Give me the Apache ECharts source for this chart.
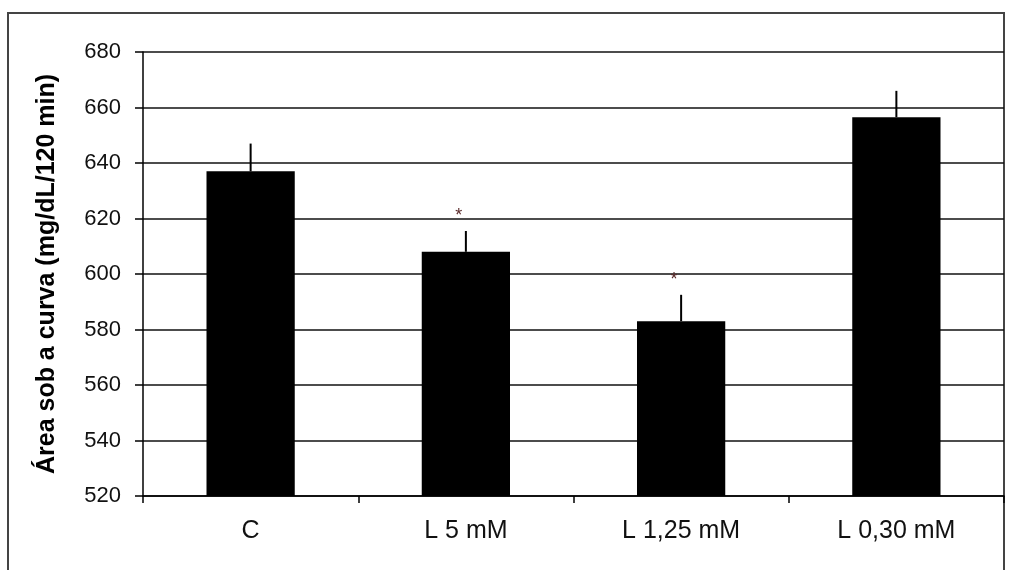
<!DOCTYPE html>
<html>
<head>
<meta charset="utf-8">
<script src="https://cdn.jsdelivr.net/npm/echarts@6/dist/echarts.min.js"></script>
<style>
html,body{margin:0;padding:0;background:#fff;}
#chart{width:1009px;height:570px;}
</style>
</head>
<body>
<div id="chart"></div>
<script>
var categories = ['C', 'L 5 mM', 'L 1,25 mM', 'L 0,30 mM'];
var means = [637, 608, 583, 656.5];
var errors = [10, 7.5, 9.5, 9.5];
var marks = ['', '*', '*', ''];
var yTicks = [520, 540, 560, 580, 600, 620, 640, 660, 680];
var yTitle = 'Área sob a curva (mg/dL/120 min)';

var chart = echarts.init(document.getElementById('chart'));
var errData = categories.map(function (c, i) { return [i, means[i], errors[i], marks[i]]; });

chart.setOption({
  animation: false,
  backgroundColor: '#fff',
  graphic: [{
    type: 'rect',
    shape: { x: 8, y: 13, width: 996, height: 600 },
    style: { fill: 'none', stroke: '#444', lineWidth: 2 },
    z: 0
  }],
  grid: { left: 143, right: 5, top: 52, bottom: 74 },
  xAxis: {
    type: 'category',
    data: categories,
    axisLine: { lineStyle: { color: '#000', width: 1.5 } },
    axisTick: { show: true, length: 7, lineStyle: { color: '#000', width: 1.5 } },
    axisLabel: { fontFamily: 'Liberation Sans', fontSize: 25, color: '#111', margin: 23 }
  },
  yAxis: {
    type: 'value',
    min: yTicks[0],
    max: yTicks[yTicks.length - 1],
    interval: 20,
    name: yTitle,
    nameLocation: 'middle',
    nameGap: 83,
    nameRotate: 90,
    nameTextStyle: { fontFamily: 'Liberation Sans', fontWeight: 'bold', fontSize: 25, color: '#000' },
    axisLine: { show: true, lineStyle: { color: '#000', width: 1.5 } },
    axisTick: { show: true, length: 8, lineStyle: { color: '#000', width: 1.5 } },
    axisLabel: { fontFamily: 'Liberation Sans', fontSize: 22, color: '#111', margin: 22 },
    splitLine: { show: true, lineStyle: { color: '#111', width: 1.5 } }
  },
  series: [{
    type: 'bar',
    data: means,
    barWidth: '41%',
    itemStyle: { color: '#000' },
    z: 2
  }, {
    type: 'custom',
    data: errData,
    clip: false,
    z: 3,
    renderItem: function (params, api) {
      var i = api.value(0), m = api.value(1), e = api.value(2);
      var base = api.coord([i, m]);
      var top = api.coord([i, m + e]);
      var children = [{
        type: 'line',
        shape: { x1: base[0], y1: base[1], x2: top[0], y2: top[1] },
        style: { stroke: '#000', lineWidth: 2 }
      }];
      var mk = marks[params.dataIndex];
      if (mk) {
        children.push({
          type: 'text',
          x: top[0] - 7,
          y: top[1] - 15,
          style: { text: mk, fontFamily: 'Liberation Sans', fontSize: 18, fill: '#5a2a2a', align: 'center', verticalAlign: 'middle' }
        });
      }
      return { type: 'group', children: children };
    }
  }]
});
</script>
</body>
</html>
